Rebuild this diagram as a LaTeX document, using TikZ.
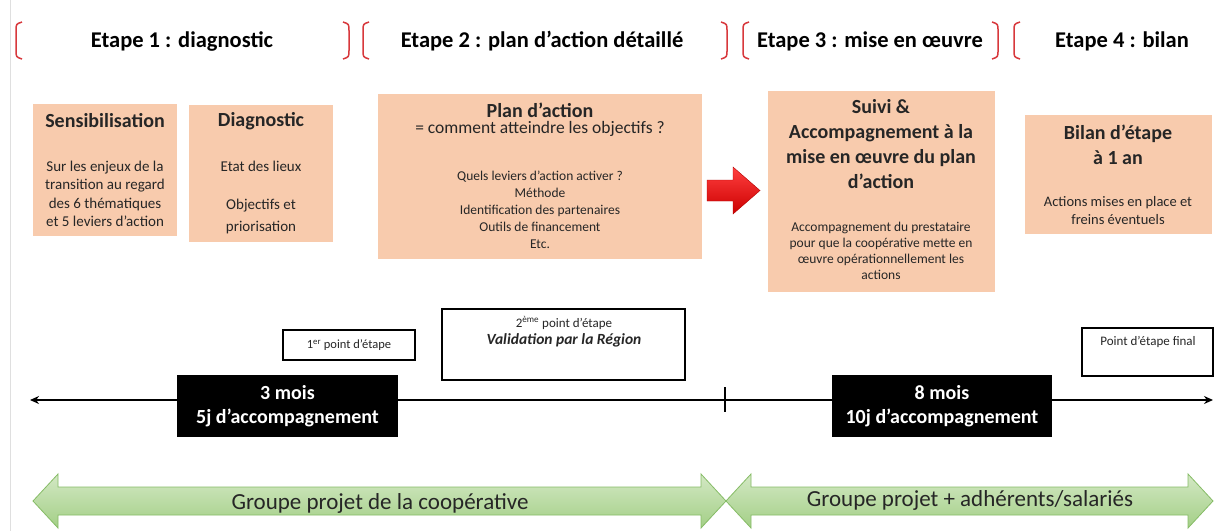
\documentclass[tikz,border=0pt]{standalone}
\usepackage{fontspec}
\setmainfont{Carlito}
\usepackage{tikz}
\usetikzlibrary{arrows.meta, positioning, calc}

\definecolor{peach}{HTML}{F8CBAD}
\definecolor{bracketred}{HTML}{D8383C}
\definecolor{greentop}{HTML}{D3E8C4}
\definecolor{greenbottom}{HTML}{A3CF86}
\definecolor{greenedge}{HTML}{86BC66}
\definecolor{textdark}{HTML}{262626}
\newcommand{\setfs}[2]{\fontsize{#1}{#2}\selectfont}

\begin{document}
\begin{tikzpicture}[x=1pt, y=-1pt,
    heading/.style={font=\bfseries\setfs{22.5}{27}, inner sep=0pt},
    peachbox/.style={fill=peach, inner sep=0pt},
    title/.style={font=\bfseries\setfs{20}{25}, align=center, text=textdark, inner sep=0pt},
    body/.style={font=\setfs{15}{18.5}, align=center, text=textdark, inner sep=0pt},
    milestone/.style={draw, line width=1.6pt, inner sep=0pt, text=textdark},
    smalltxt/.style={font=\setfs{13}{15}, text=textdark, inner sep=0pt},
    duration/.style={fill=black, text=white, font=\bfseries\setfs{20}{24}, align=center,
        minimum width=221, minimum height=62, inner sep=0pt},
    grouptxt/.style={font=\setfs{23}{27}, text=textdark, inner sep=0pt}
]
\useasboundingbox (0,0) rectangle (1216,531);
\fill[white] (0,0) rectangle (1216,531);
\draw[gray!25, line width=1pt] (10.5,0) -- (10.5,531);

% stages
\foreach \x/\s in {16/1, 349/-1, 363/1, 727/-1, 743/1, 998/-1, 1014/1}
    \draw[bracketred, line width=1.5pt] (\x+6*\s,22) .. controls (\x,24) .. (\x,31)
        -- (\x,50) .. controls (\x,57) .. (\x+6*\s,59);
\node[heading] (step1) at (182,41) {Etape 1 : diagnostic};
\node[heading] (step2) at (542,41) {Etape 2 : plan d’action détaillé};
\node[heading] (step3) at (870,41) {Etape 3 : mise en œuvre};
\node[heading] (step4) at (1122,41) {Etape 4 : bilan};

% boxes
\node[peachbox, minimum width=144, minimum height=132] (sensi) at (105,170) {};
\node[title] (sensi-t) at (105,121) {Sensibilisation};
\node[body] (sensi-b) at (105,194) {Sur les enjeux de la\\transition au regard\\des 6 thématiques\\et 5 leviers d’action};

\node[peachbox, minimum width=144, minimum height=137] (diag) at (261,173.5) {};
\node[title] (diag-t) at (261,121) {Diagnostic};
\node[body] (diag-b) at (261,166) {Etat des lieux};
\node[body, font=\setfs{15}{22}] (diag-c) at (261,216) {Objectifs et\\priorisation};

\node[peachbox, minimum width=324, minimum height=165] (plan) at (540,176.5) {};
\node[title] (plan-t) at (540,110) {Plan d’action};
\node[body, font=\setfs{17.5}{21}] (plan-s) at (540,129) {= comment atteindre les objectifs ?};
\node[body, font=\setfs{13.5}{17}] (plan-b) at (540,210) {Quels leviers d’action activer ?\\Méthode\\Identification des partenaires\\Outils de financement\\Etc.};

\shade[top color=red!75, bottom color=red!80!black, draw=red!70!black, line width=0.4pt]
    (707,180) -- (733,180) -- (733,167) -- (760,190.5) -- (733,214) -- (733,201) -- (707,201) -- cycle;

\node[peachbox, minimum width=227, minimum height=201] (suivi) at (881.5,191.5) {};
\node[title] (suivi-t) at (881,144.5) {Suivi \&\\Accompagnement à la\\mise en œuvre du plan\\d’action};
\node[body, font=\setfs{13.5}{16}] (suivi-b) at (881,251) {Accompagnement du prestataire\\pour que la coopérative mette en\\œuvre opérationnellement les\\actions};

\node[peachbox, minimum width=187, minimum height=119] (bilan) at (1118.5,174.5) {};
\node[title] (bilan-t) at (1118,144.5) {Bilan d’étape\\à 1 an};
\node[body, font=\setfs{14.5}{18}] (bilan-b) at (1118,211) {Actions mises en place et\\freins éventuels};

% timeline
\coordinate (tl-left) at (30,400);
\coordinate (tl-right) at (1213,400);
\coordinate (tl-mid) at (725,400);
\draw[line width=1.8pt, {Stealth[length=9pt, width=8pt]}-{Stealth[length=9pt, width=8pt]}] (tl-left) -- (tl-right);
\draw[line width=1.8pt] ($(tl-mid)+(0,-13)$) -- ($(tl-mid)+(0,12)$);

\node[milestone, minimum width=132, minimum height=30] (pt1) at (349,345) {};
\node[smalltxt, font=\setfs{12.5}{15}] (pt1-t) at (pt1) {1\textsuperscript{er} point d’étape};
\node[milestone, minimum width=243, minimum height=71] (pt2) at (563.5,344.5) {};
\node[smalltxt] (pt2-t) at (564,323) {2\textsuperscript{ème} point d’étape};
\node[smalltxt, font=\bfseries\itshape\setfs{15.5}{18}] (pt2-v) at (564,340) {Validation par la Région};
\node[milestone, minimum width=131, minimum height=48] (pt3) at (1147.5,352) {};
\node[smalltxt] (pt3-t) at (1148,342) {Point d’étape final};

\node[duration] (dur1) at (287.5,406) {3 mois\\5j d’accompagnement};
\node[duration, minimum width=220] (dur2) at (942,406) {8 mois\\10j d’accompagnement};

% groups
\shade[top color=greentop, bottom color=greenbottom, draw=greenedge, line width=0.8pt]
    (33,501) -- (58,474) -- (58,487) -- (701,487) -- (701,474) -- (726,501)
    -- (701,528) -- (701,515) -- (58,515) -- (58,528) -- cycle;
\shade[top color=greentop, bottom color=greenbottom, draw=greenedge, line width=0.8pt]
    (726,501) -- (751,474) -- (751,487) -- (1188,487) -- (1188,474) -- (1213,501)
    -- (1188,528) -- (1188,515) -- (751,515) -- (751,528) -- cycle;
\node[grouptxt] (grp1) at (380,503) {Groupe projet de la coopérative};
\node[grouptxt] (grp2) at (970,500) {Groupe projet + adhérents/salariés};
\end{tikzpicture}
\end{document}
